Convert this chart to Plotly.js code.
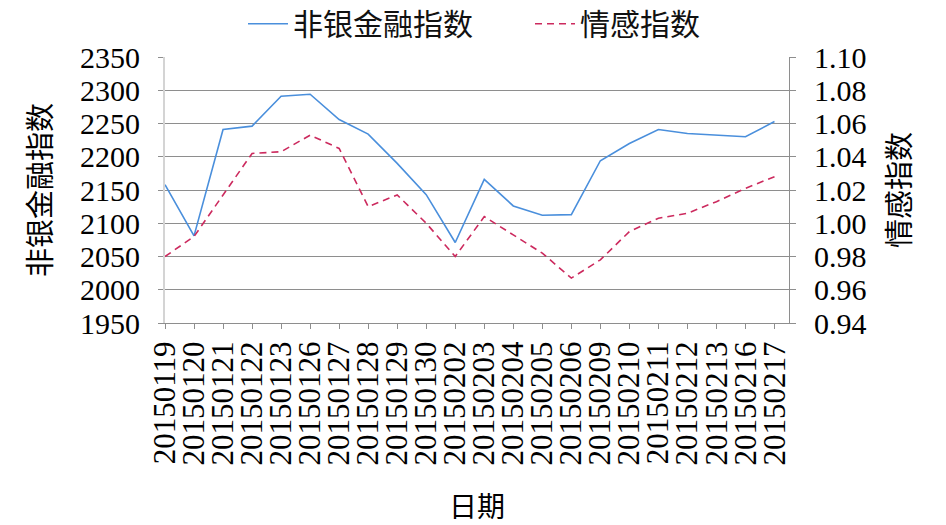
<!DOCTYPE html>
<html><head><meta charset="utf-8">
<script src="https://cdn.plot.ly/plotly-3.0.1.min.js"></script>
<style>body{margin:0;background:#fff}#chart{width:946px;height:525px}</style>
</head><body><div id="chart"></div>
<script>
const dates = ["20150119","20150120","20150121","20150122","20150123","20150126","20150127","20150128","20150129","20150130","20150202","20150203","20150204","20150205","20150206","20150209","20150210","20150211","20150212","20150213","20150216","20150217"];
const financeIndex = [2158,2081,2241,2246,2291,2294,2256,2234,2190,2143,2071,2166,2126,2112,2113,2194,2220,2241,2235,2233,2230,2253];
const sentimentIndex = [0.980,0.992,1.017,1.042,1.043,1.053,1.045,1.010,1.017,1.000,0.980,1.004,0.993,0.982,0.967,0.978,0.995,1.003,1.006,1.013,1.021,1.028];
const leftTicks = [1950,2000,2050,2100,2150,2200,2250,2300,2350];
const rightTicks = [0.94,0.96,0.98,1.00,1.02,1.04,1.06,1.08,1.10];

const serif = '"Liberation Serif", "Times New Roman", Times, "DejaVu Serif", serif';
const cjk = '"Noto Sans CJK SC", sans-serif';

const traces = [
  {x: dates, y: financeIndex, name: "非银金融指数", type: "scatter", mode: "lines",
   line: {color: "#4a8fdc", width: 1.6}, yaxis: "y"},
  {x: dates, y: sentimentIndex, name: "情感指数", type: "scatter", mode: "lines",
   line: {color: "#cc2a5e", width: 1.6, dash: "7px,5px"}, yaxis: "y2"}
];

const layout = {
  width: 946, height: 525,
  margin: {l: 165, r: 157, t: 57, b: 202, autoexpand: false},
  paper_bgcolor: "#fff", plot_bgcolor: "#fff",
  showlegend: true,
  legend: {orientation: "h", x: 0.125, xanchor: "left", y: 1.125, yanchor: "middle",
           font: {family: cjk, size: 30, color: "#111"}, itemwidth: 40, entrywidth: 232,
           tracegroupgap: 0, bgcolor: "rgba(0,0,0,0)"},
  xaxis: {type: "category", range: [0, 21.5], showgrid: false,
          tickmode: "array", tickvals: dates, ticktext: dates,
          showline: true, linecolor: "#8e8e8e", linewidth: 1,
          ticks: "outside", ticklen: 5, tickcolor: "#8e8e8e",
          tickangle: -90, tickfont: {family: serif, size: 31, color: "#000"},
          title: {text: "日期", font: {family: cjk, size: 28, color: "#000"}, standoff: 34},
          zeroline: false},
  yaxis: {range: [1950, 2350], tickvals: leftTicks, ticktext: leftTicks.map(String),
          showgrid: true, gridcolor: "#8e8e8e", gridwidth: 1,
          showline: true, linecolor: "#d4d4d4", linewidth: 2,
          ticks: "outside", ticklen: 5, tickcolor: "#8e8e8e", ticklabelstandoff: 12,
          tickfont: {family: serif, size: 30, color: "#000"},
          title: {text: "非银金融指数", font: {family: cjk, size: 29, color: "#000"}, standoff: 20},
          zeroline: false},
  yaxis2: {range: [0.94, 1.10], tickvals: rightTicks, ticktext: rightTicks.map(v => v.toFixed(2)),
           overlaying: "y", side: "right", showgrid: false,
           showline: true, linecolor: "#8e8e8e", linewidth: 1,
           ticks: "outside", ticklen: 6, tickcolor: "#8e8e8e", ticklabelstandoff: 12,
           tickfont: {family: serif, size: 30, color: "#000"},
           title: {text: "情感指数", font: {family: cjk, size: 29, color: "#000"}, standoff: 24},
           zeroline: false}
};

Plotly.newPlot("chart", traces, layout, {displayModeBar: false, staticPlot: true});
</script>
</body></html>
